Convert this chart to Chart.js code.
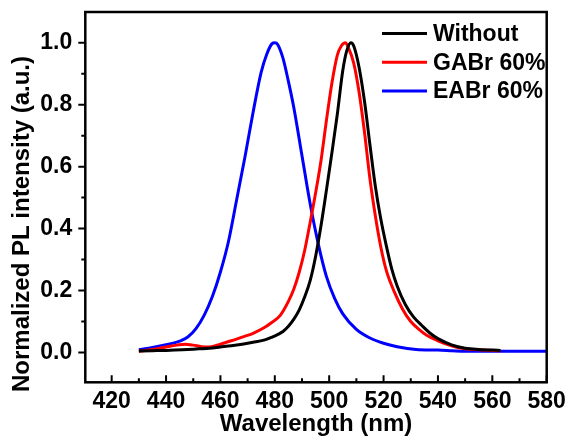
<!DOCTYPE html>
<html>
<head>
<meta charset="utf-8">
<script src="https://cdn.jsdelivr.net/npm/chart.js@4"></script>
<style>
  html, body { margin: 0; padding: 0; background: #fff; }
  #wrap { width: 571px; height: 443px; }
</style>
</head>
<body>
<div id="wrap"><canvas id="plChart"></canvas></div>
<script>
// PL spectra
const seriesNames = ['Without', 'GABr 60%', 'EABr 60%'];
const seriesColors = ['#000000', '#ff0000', '#0000ff'];

const withoutNm = [430, 435, 440, 446, 452, 456, 460, 464, 468, 472, 476, 479, 481, 483, 485, 487, 489, 491, 493, 495, 497, 499, 501, 503, 505, 506.5, 508, 509, 511, 513, 515, 517, 519, 521, 523, 525, 528, 531, 534, 537, 540, 545, 550, 555, 563];
const withoutInt = [0.005, 0.006, 0.007, 0.009, 0.012, 0.014, 0.018, 0.022, 0.027, 0.033, 0.040, 0.050, 0.058, 0.068, 0.085, 0.108, 0.138, 0.18, 0.232, 0.31, 0.41, 0.525, 0.645, 0.77, 0.91, 0.975, 1.0, 0.99, 0.92, 0.81, 0.67, 0.535, 0.43, 0.345, 0.27, 0.215, 0.155, 0.115, 0.088, 0.063, 0.045, 0.025, 0.014, 0.010, 0.007];

const gabrNm = [430, 435, 440, 444, 447, 450, 453, 456, 460, 464, 468, 472, 476, 479, 482, 485, 487, 489, 491, 493, 495, 497, 499, 501, 503, 504.5, 506, 507, 509, 511, 513, 515, 517, 519, 521, 524, 527, 530, 533, 536, 540, 545, 550, 555, 563];
const gabrInt = [0.004, 0.010, 0.018, 0.024, 0.027, 0.024, 0.019, 0.018, 0.027, 0.038, 0.050, 0.062, 0.080, 0.098, 0.120, 0.165, 0.205, 0.26, 0.33, 0.42, 0.515, 0.62, 0.75, 0.87, 0.96, 0.99, 1.0, 0.985, 0.935, 0.84, 0.71, 0.56, 0.44, 0.34, 0.265, 0.195, 0.14, 0.10, 0.075, 0.055, 0.038, 0.022, 0.012, 0.009, 0.006];

const eabrNm = [430, 435, 440, 445, 448, 451, 454, 457, 460, 463, 466, 469, 472, 475, 477, 479, 480, 481, 483, 485, 487, 490, 493, 496, 499, 502, 505, 510, 515, 520, 525, 532, 540, 545, 550, 560, 570, 580];
const eabrInt = [0.009, 0.016, 0.025, 0.037, 0.050, 0.077, 0.12, 0.18, 0.26, 0.36, 0.495, 0.63, 0.775, 0.905, 0.962, 0.997, 1.0, 0.995, 0.95, 0.875, 0.79, 0.635, 0.48, 0.35, 0.245, 0.175, 0.125, 0.075, 0.047, 0.030, 0.019, 0.010, 0.008, 0.006, 0.004, 0.004, 0.004, 0.004];

const xTickLabels = [420, 440, 460, 480, 500, 520, 540, 560, 580];
const yTickLabels = [0.0, 0.2, 0.4, 0.6, 0.8, 1.0];

const FONT = '"Liberation Sans", Arial, sans-serif';

const toPoints = (xs, ys) => xs.map((x, i) => ({ x: x, y: ys[i] }));
const seriesData = [toPoints(withoutNm, withoutInt), toPoints(gabrNm, gabrInt), toPoints(eabrNm, eabrInt)];

// frame, ticks (y outward, x inward), y title and legend box
const framePlugin = {
  id: 'frame',
  afterDatasetsDraw(chart) {
    const ctx = chart.ctx;
    const a = chart.chartArea;
    const xs = chart.scales.x, ys = chart.scales.y;
    ctx.save();
    ctx.strokeStyle = '#000';
    ctx.lineWidth = 2.5;
    ctx.strokeRect(a.left, a.top, a.right - a.left, a.bottom - a.top);

    ctx.lineWidth = 2;
    ctx.beginPath();
    for (let v = 420; v <= 580; v += 10) {
      const px = xs.getPixelForValue(v);
      const len = (v % 20 === 0) ? 7 : 4;
      ctx.moveTo(px, a.bottom);
      ctx.lineTo(px, a.bottom - len);
    }
    for (let k = 0; k <= 10; k++) {
      const py = ys.getPixelForValue(k / 10);
      const len = (k % 2 === 0) ? 7 : 4;
      ctx.moveTo(a.left, py);
      ctx.lineTo(a.left - len, py);
    }
    ctx.stroke();

    // y axis title, sits a bit lower than the plot centre in the original
    ctx.fillStyle = '#000';
    ctx.font = 'bold 24px ' + FONT;
    ctx.translate(22, 224);
    ctx.rotate(-Math.PI / 2);
    ctx.textAlign = 'center';
    ctx.textBaseline = 'middle';
    ctx.fillText('Normalized PL intensity (a.u.)', 0, 0);
    ctx.restore();

    // legend inside the top right corner
    ctx.save();
    ctx.font = 'bold 23px ' + FONT;
    ctx.textBaseline = 'middle';
    ctx.textAlign = 'left';
    chart.data.datasets.forEach((ds, i) => {
      const y = 33.5 + i * 28.7;
      ctx.strokeStyle = ds.borderColor;
      ctx.lineWidth = 3;
      ctx.beginPath();
      ctx.moveTo(382, y);
      ctx.lineTo(427, y);
      ctx.stroke();
      ctx.fillStyle = '#000';
      ctx.fillText(ds.label, 433, y + 1);
    });
    ctx.restore();
  }
};

new Chart(document.getElementById('plChart'), {
  type: 'line',
  data: {
    datasets: seriesNames.map((name, i) => ({
      label: name,
      data: seriesData[i],
      borderColor: seriesColors[i],
      backgroundColor: seriesColors[i],
      borderWidth: 3,
      pointRadius: 0,
      cubicInterpolationMode: 'monotone',
      fill: false
    }))
  },
  options: {
    responsive: true,
    maintainAspectRatio: false,
    animation: false,
    layout: { padding: { top: 12, right: 24.3, left: 0, bottom: 0 } },
    plugins: {
      legend: { display: false },
      tooltip: { enabled: false }
    },
    scales: {
      x: {
        type: 'linear',
        min: 410.3,
        max: 580,
        afterBuildTicks: s => { s.ticks = xTickLabels.map(v => ({ value: v })); },
        afterFit: s => { s.height = 60.7; s.paddingLeft = 0; s.paddingRight = 0; },
        grid: { display: false, drawTicks: false },
        border: { display: false },
        ticks: {
          color: '#000',
          padding: 6,
          maxRotation: 0,
          font: { family: FONT, size: 23, weight: 'bold' }
        },
        title: {
          display: true,
          text: 'Wavelength (nm)',
          color: '#000',
          padding: { top: 0, bottom: 4 },
          font: { family: FONT, size: 24, weight: 'bold' }
        }
      },
      y: {
        min: -0.096,
        max: 1.099,
        afterBuildTicks: s => { s.ticks = yTickLabels.map(v => ({ value: v })); },
        afterFit: s => { s.width = 85.3; s.paddingTop = 0; s.paddingBottom = 0; },
        grid: { display: false, drawTicks: false },
        border: { display: false },
        ticks: {
          color: '#000',
          padding: 13,
          callback: v => v.toFixed(1),
          font: { family: FONT, size: 23, weight: 'bold' }
        }
      }
    }
  },
  plugins: [framePlugin]
});
</script>
</body>
</html>
